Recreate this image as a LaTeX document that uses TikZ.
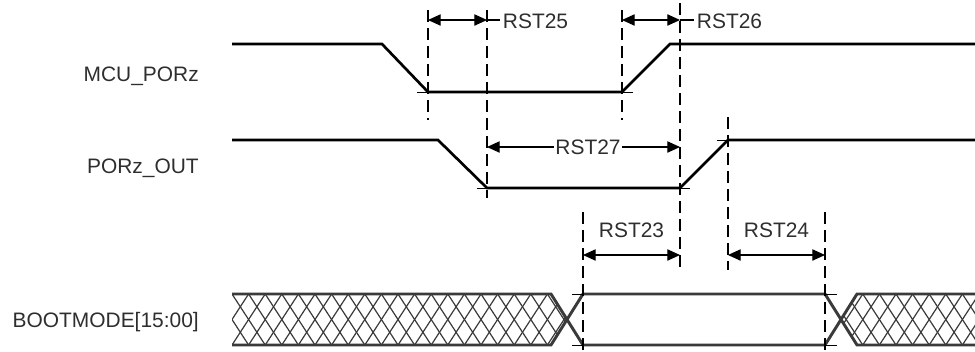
\documentclass[tikz,border=0pt]{standalone}
\usepackage{fontspec}
\setmainfont{Liberation Sans}
\usetikzlibrary{arrows.meta}
\definecolor{BusGray}{HTML}{3A3A3A}
\definecolor{LabelGray}{HTML}{2E2E2E}

\begin{document}
\begin{tikzpicture}[x=.75pt,y=-.75pt,
  wave/.style={line width=2pt,line join=miter},
  bus/.style={line width=2.2pt,BusGray},
  hatch/.style={line width=.9pt,BusGray},
  marker/.style={line width=.8pt,dash pattern=on 9pt off 4.5pt},
  tick/.style={line width=.7pt},
  dim/.style={line width=.8pt,{Triangle[length=9.5pt,width=8.5pt]}-{Triangle[length=9.5pt,width=8.5pt]}},
  halfdim/.style={line width=.8pt,-{Triangle[length=9.5pt,width=8.5pt]}},
  sig/.style={font=\fontsize{15.7}{18}\selectfont,text=LabelGray,anchor=base east,inner sep=0pt},
  tlabel/.style={font=\fontsize{15.7}{18}\selectfont,text=LabelGray,inner sep=2pt}]
  \useasboundingbox (0,0) rectangle (975,351);

  % signal names
  \node[sig] (mcu) at (199,81) {MCU\_PORz};
  \node[sig] (porzout) at (199,173) {PORz\_OUT};
  \node[sig] (bootmode) at (199,327) {BOOTMODE[15:00]};

  % don't-care hatching of the bus
  \begin{scope}
    \clip (232,294) -- (551,294) -- (567,320) -- (551,345) -- (232,345) -- cycle
          (841,320) -- (857,294) -- (975,294) -- (975,345) -- (857,345) -- cycle;
    \foreach \i in {-2,...,46} {
      \draw[hatch] ({232+16.6*\i},294) -- ++(33.2,51);
      \draw[hatch] ({232+16.6*\i},294) -- ++(-33.2,51);
    }
  \end{scope}
  \draw[bus] (232,294)--(551,294)--(583,345)--(825,345)--(857,294)--(975,294);
  \draw[bus] (232,345)--(551,345)--(583,294)--(825,294)--(857,345)--(975,345);

  % waveforms
  \draw[wave] (232,44)--(382,44)--(428,92)--(622,92)--(670,44)--(975,44);
  \draw[wave] (232,140)--(438,140)--(487,188)--(680,188)--(728,140)--(975,140);

  % corner ticks
  \draw[tick] (417,92)--(633,92);
  \draw[tick] (477,188)--(690,188);
  \draw[tick] (717,140)--(728,140);
  \draw[tick] (572,294)--(583,294) (572,345)--(583,345);
  \draw[tick] (825,294)--(837,294) (825,345)--(837,345);

  % timing markers
  \draw[marker] (428,10)--(428,120);
  \draw[marker] (487,10)--(487,198);
  \draw[marker] (622,10)--(622,120);
  \draw[marker] (680,3)--(680,270);
  \draw[marker] (728,117)--(728,270);
  \draw[marker] (583,212)--(583,351);
  \draw[marker] (825,212)--(825,351);

  % RST25 / RST26
  \coordinate (r25a) at (428,20);
  \coordinate (r25b) at (487,20);
  \draw[dim] (r25a)--(r25b);
  \node[tlabel,anchor=base west] (rst25) at (500,28) {RST25};
  \draw[line width=.8pt] (r25b)--(rst25.west |- r25b);

  \coordinate (r26a) at (622,20);
  \coordinate (r26b) at (680,20);
  \draw[dim] (r26a)--(r26b);
  \node[tlabel,anchor=base west] (rst26) at (694,28) {RST26};
  \draw[line width=.8pt] (r26b)--(rst26.west |- r26b);

  % RST27
  \coordinate (r27a) at (487,147);
  \coordinate (r27b) at (680,147);
  \node[tlabel,inner sep=1pt] (rst27) at (588,147) {RST27};
  \draw[halfdim] (rst27)--(r27a);
  \draw[halfdim] (rst27)--(r27b);

  % RST23 / RST24
  \coordinate (r23a) at (583,255);
  \coordinate (r23b) at (680,255);
  \draw[dim] (r23a)--(r23b);
  \node[tlabel,anchor=base] (rst23) at (631.5,237) {RST23};

  \coordinate (r24a) at (728,255);
  \coordinate (r24b) at (825,255);
  \draw[dim] (r24a)--(r24b);
  \node[tlabel,anchor=base] (rst24) at (776.5,237) {RST24};
\end{tikzpicture}
\end{document}
